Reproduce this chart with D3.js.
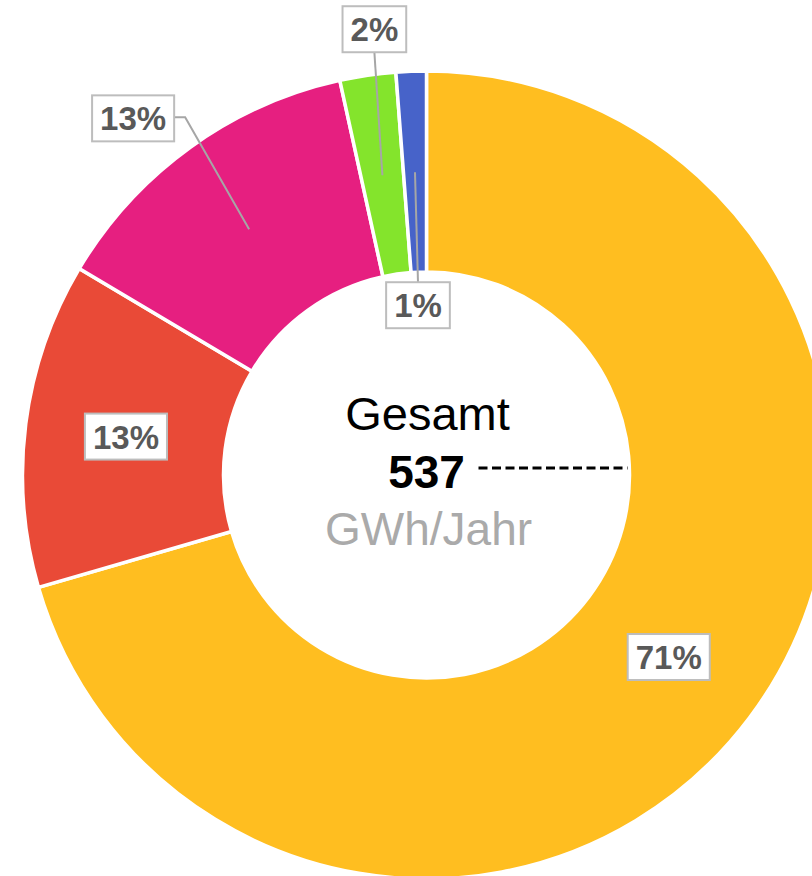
<!DOCTYPE html>
<html lang="de">
<head>
    <meta charset="UTF-8">
    <title>Gesamt GWh/Jahr</title>
    <script src="https://cdn.jsdelivr.net/npm/d3@7/dist/d3.min.js"></script>
    <style>
        body { margin: 0; background: #fff; }
        svg text { font-family: "Liberation Sans", Arial, sans-serif; }
        .lbl rect { fill: #fff; stroke: #bdbdbd; stroke-width: 2; }
        .lbl text { font-weight: bold; font-size: 33px; fill: #595959; }
        .leader { fill: none; stroke: #a6a6a6; stroke-width: 2; }
    </style>
</head>
<body>
<script>
    // data
    var categories = ['A', 'B', 'C', 'D', 'E'];
    var values = [379, 70, 70, 12, 6.5];
    var colors = ['#ffbe20', '#e94a37', '#e61f80', '#84e42c', '#4763c9'];
    var total = 537;
    var titleText = 'Gesamt';
    var unitText = 'GWh/Jahr';

    // where labels go, relative to the slice centroid (null = on the slice)
    var labelShift = { A: null, B: null, C: [-116, -111], D: [-8, -146], E: [3, 133] };

    var w = 812, h = 876;
    var cx = 426.5, cy = 475;
    var outerR = 404, innerR = 203;

    var svg = d3.select('body').append('svg')
        .attr('width', w)
        .attr('height', h);

    var g = svg.append('g').attr('transform', 'translate(' + cx + ',' + cy + ')');

    var pie = d3.pie().sort(null).value(function(d) { return d.value; });
    var arc = d3.arc().innerRadius(innerR).outerRadius(outerR);
    var midArc = d3.arc().innerRadius(204).outerRadius(402);
    var sum = d3.sum(values);

    var slices = pie(categories.map(function(c, i) {
        return { cat: c, value: values[i], color: colors[i] };
    }));

    g.selectAll('path.slice')
        .data(slices)
        .enter()
        .append('path')
        .attr('class', 'slice')
        .attr('d', arc)
        .attr('fill', function(d) { return d.data.color; })
        .attr('stroke', '#fff')
        .attr('stroke-width', 3.5);

    // center text
    g.append('text')
        .attr('text-anchor', 'middle')
        .attr('x', 1)
        .attr('y', -45)
        .attr('font-size', '47px')
        .attr('fill', '#000')
        .text(titleText);

    g.append('text')
        .attr('text-anchor', 'middle')
        .attr('x', 0)
        .attr('y', 13)
        .attr('font-size', '46px')
        .attr('font-weight', 'bold')
        .attr('fill', '#000')
        .text(total);

    g.append('line')
        .attr('x1', 52)
        .attr('x2', 201)
        .attr('y1', -7)
        .attr('y2', -7)
        .attr('stroke', '#000')
        .attr('stroke-width', 3)
        .attr('stroke-dasharray', '9,4.5');

    g.append('text')
        .attr('text-anchor', 'middle')
        .attr('x', 2)
        .attr('y', 70)
        .attr('font-size', '46px')
        .attr('fill', '#aaaaaa')
        .text(unitText);

    // labels
    var pad = 8, boxH = 46;
    slices.forEach(function(d) {
        var c = midArc.centroid(d);
        var shift = labelShift[d.data.cat];
        var lx = c[0] + (shift ? shift[0] : 0);
        var ly = c[1] + (shift ? shift[1] : 0);
        var txt = Math.round(d.data.value / sum * 100) + '%';

        var lg = g.append('g').attr('class', 'lbl');
        var t = lg.append('text')
            .attr('x', lx)
            .attr('y', ly + 12)
            .attr('text-anchor', 'middle')
            .text(txt);
        var bw = t.node().getComputedTextLength() + pad * 2;
        lg.insert('rect', 'text')
            .attr('x', lx - bw / 2)
            .attr('y', ly - boxH / 2)
            .attr('width', bw)
            .attr('height', boxH);

        if (shift) {
            var pts;
            if (Math.abs(shift[0]) > Math.abs(shift[1]) * 0.5) {
                // box to the side: short horizontal tail then to the centroid
                var ex = lx + bw / 2;
                pts = [[ex, ly - 1], [ex + 11, ly - 1], c];
            } else if (shift[1] < 0) {
                pts = [[lx, ly + boxH / 2], c];
            } else {
                pts = [[lx, ly - boxH / 2], c];
            }
            g.insert('path', 'g.lbl')
                .attr('class', 'leader')
                .attr('d', d3.line()(pts));
        }
    });
</script>
</body>
</html>
